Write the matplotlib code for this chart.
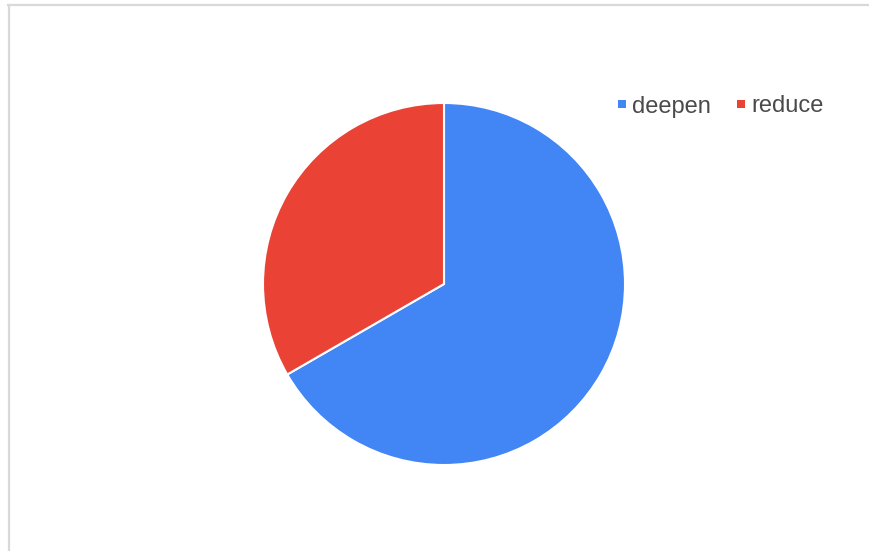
import matplotlib.pyplot as plt
from matplotlib.lines import Line2D
from matplotlib.patches import Rectangle

labels = ["deepen", "reduce"]
values = [2, 1]
colors = ["#4285F4", "#EA4335"]

W, H = 869, 551
fig = plt.figure(figsize=(W / 100, H / 100), dpi=100)

# pie centre (444, 284) px, radius 181 px
cx, cy, r = 444, 284, 181
ax = fig.add_axes([(cx - r) / W, (H - cy - r) / H, 2 * r / W, 2 * r / H])
ax.pie(values, colors=colors, startangle=90, counterclock=False,
       wedgeprops=dict(edgecolor="white", linewidth=1.5))
ax.set_xlim(-1, 1)
ax.set_ylim(-1, 1)
ax.set_aspect("auto")
ax.axis("off")

# legend
leg_x = [622, 741]
leg_y = 104
for x, lab, c in zip(leg_x, labels, colors):
    fig.patches.append(Rectangle(((x - 4) / W, (H - leg_y - 4) / H), 8 / W, 8 / H,
                                 transform=fig.transFigure, facecolor=c, edgecolor="none"))
    fig.text((x + 10) / W, (H - leg_y) / H, lab, fontsize=17, color="#4a4a4a",
             family="Liberation Sans", va="center_baseline", ha="left")

# frame lines top and left
fig.add_artist(Line2D([8 / W, 1], [(H - 5) / H] * 2, transform=fig.transFigure,
                      color="#d9d9d9", linewidth=1.6))
fig.add_artist(Line2D([9 / W] * 2, [0, (H - 5) / H], transform=fig.transFigure,
                      color="#d9d9d9", linewidth=1.6))

fig.savefig("out.png", dpi=100)
